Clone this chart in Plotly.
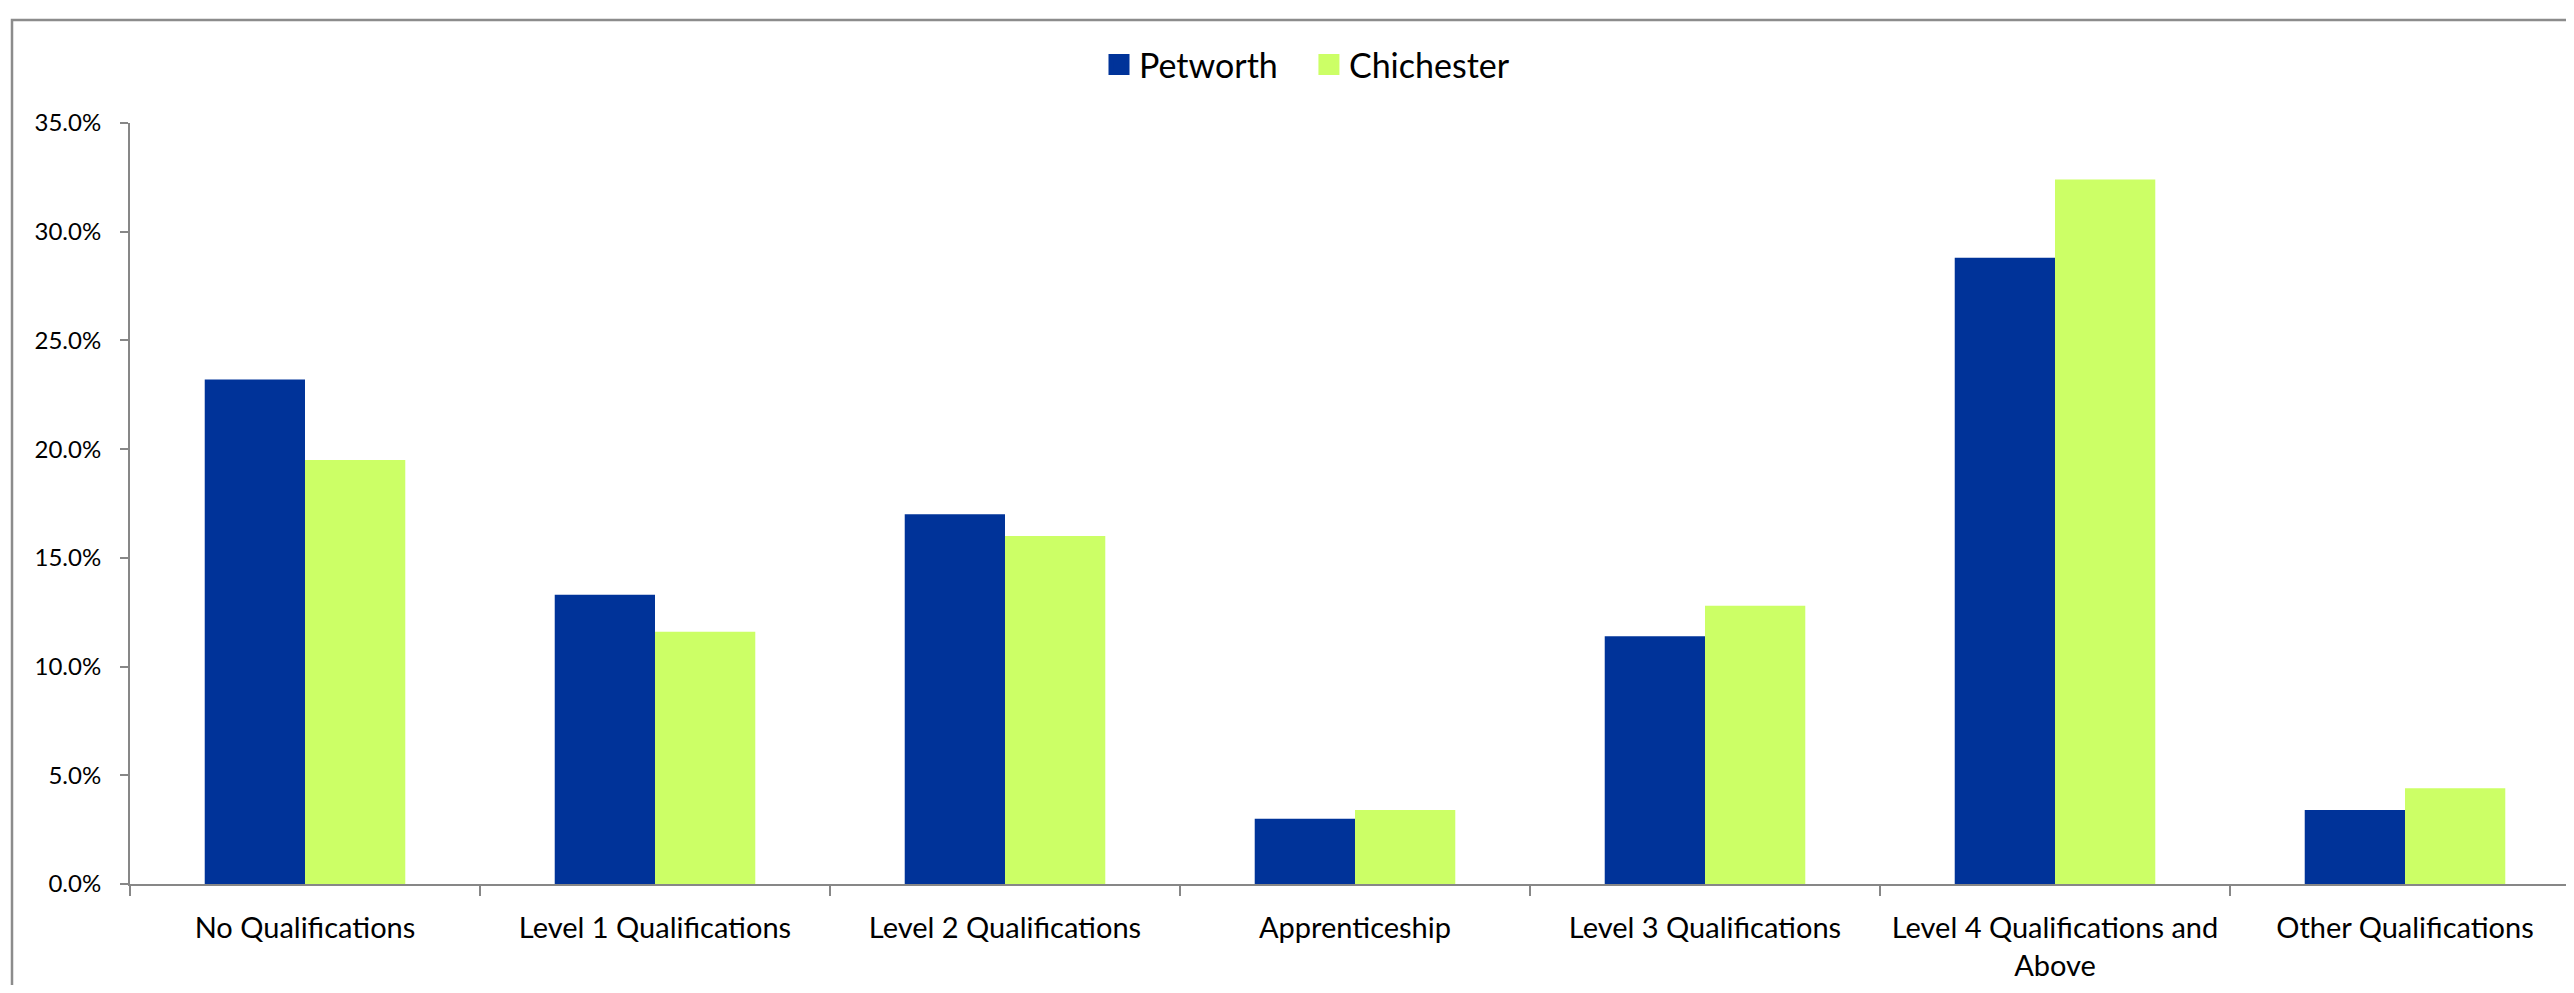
import plotly.graph_objects as go

categories = ["No Qualifications", "Level 1 Qualifications", "Level 2 Qualifications",
              "Apprenticeship", "Level 3 Qualifications",
              "Level 4 Qualifications and Above", "Other Qualifications"]
tick_labels = ["No Qualifications", "Level 1 Qualifications", "Level 2 Qualifications",
               "Apprenticeship", "Level 3 Qualifications",
               "Level 4 Qualifications and<br>Above", "Other Qualifications"]
petworth = [23.2, 13.3, 17.0, 3.0, 11.4, 28.8, 3.4]
chichester = [19.5, 11.6, 16.0, 3.4, 12.8, 32.4, 4.4]
y_ticks = [0, 5, 10, 15, 20, 25, 30, 35]
series = ["Petworth", "Chichester"]
colors = {"Petworth": "#003399", "Chichester": "#CCFF66"}
legend_names = {"Petworth": "Petworth\u00a0\u00a0\u00a0", "Chichester": "Chichester"}

# figure is placed by the page at an 8px body margin
W, H = 2558, 977
L, R, T, B = 122, 0, 115, H - 876
pw, ph = W - L - R, H - T - B
CAT_W = 350  # px per category; the last one runs past the right edge
x_range = [-0.5, -0.5 + pw / CAT_W]

def px_x(x):
    return (x - L) / pw

def px_y(y):
    return (H - B - y) / ph

fig = go.Figure()
for name, vals in zip(series, [petworth, chichester]):
    fig.add_trace(go.Bar(name=name, x=categories, y=vals, showlegend=False,
                         marker=dict(color=colors[name], line=dict(width=0))))
for name in series:
    fig.add_trace(go.Scatter(name=legend_names[name], x=[None], y=[None], mode="markers",
                             marker=dict(symbol="square", size=16, color=colors[name],
                                         line=dict(width=5, color=colors[name])),
                             showlegend=True))

font = "Lato, 'Open Sans', sans-serif"
fig.update_layout(
    width=W, height=H,
    margin=dict(l=L, r=R, t=T, b=B, pad=0),
    paper_bgcolor="white", plot_bgcolor="white",
    barmode="group", bargap=0.427, bargroupgap=0,
    font=dict(family=font, size=28, color="black"),
    showlegend=True,
    legend=dict(orientation="h", x=px_x(1299), xanchor="center",
                y=px_y(57), yanchor="middle",
                font=dict(size=34, family=font),
                itemsizing="trace", itemwidth=30, tracegroupgap=0,
                bgcolor="rgba(0,0,0,0)"),
    xaxis=dict(tickvals=categories, ticktext=tick_labels, range=x_range,
               showline=True, linecolor="#878787", linewidth=2, ticks="outside",
               tickson="boundaries", ticklen=10, tickcolor="#878787",
               tickwidth=2, showgrid=False, zeroline=False,
               tickfont=dict(size=29, family=font), ticklabelstandoff=17),
    yaxis=dict(range=[0, 35], tickvals=y_ticks,
               ticktext=[f"{v:.1f}%" for v in y_ticks],
               showline=True, linecolor="#878787", linewidth=2,
               ticks="outside", ticklen=8, tickcolor="#878787", tickwidth=2,
               showgrid=False, zeroline=False,
               tickfont=dict(size=24, family=font), ticklabelstandoff=14),
    shapes=[dict(type="rect", xref="paper", yref="paper",
                 x0=px_x(4), x1=px_x(2700), y0=px_y(1100), y1=px_y(12),
                 line=dict(color="#8c8c8c", width=2.5), fillcolor="rgba(0,0,0,0)",
                 layer="below")],
)

fig.write_html("out.html")
